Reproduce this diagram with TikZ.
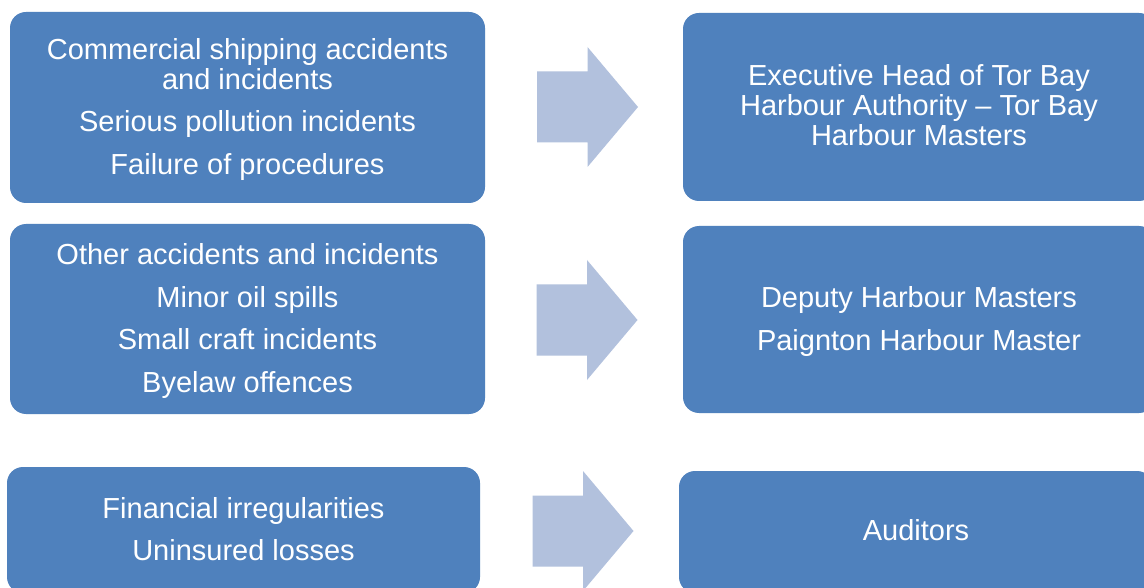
\documentclass[tikz,border=0pt]{standalone}
\usepackage{fontspec}
\setmainfont{Liberation Sans}
\definecolor{boxblue}{HTML}{4F81BD}
\definecolor{arrowblue}{HTML}{B2C1DD}
\tikzset{
  box/.style={fill=boxblue, rounded corners=16pt, inner sep=0pt},
  txt/.style={text=white, align=center, font=\fontsize{29}{30}\selectfont, inner sep=0pt},
  blockarrow/.pic={\fill[arrowblue] (-50.5,-35.5) -- (0,-35.5) -- (0,-60) -- (50.5,0) -- (0,60) -- (0,35.5) -- (-50.5,35.5) -- cycle;}
}
\begin{document}
\begin{tikzpicture}[x=1pt,y=-1pt]
\useasboundingbox (0,0) rectangle (1144,588);
\clip (0,0) rectangle (1144,588);
\fill[white] (0,0) rectangle (1144,588);
% left column
\node[box, minimum width=475pt, minimum height=191pt] (l1) at (247.5,107.5) {};
\node[txt] (t1) at ([yshift=-2pt]l1.center)
  {Commercial shipping accidents\\and incidents\\[12.3pt]Serious pollution incidents\\[12.3pt]Failure of procedures};
\node[box, minimum width=475pt, minimum height=190pt] (l2) at (247.5,319) {};
\node[txt] (t2) at ([yshift=-2pt]l2.center)
  {Other accidents and incidents\\[12.5pt]Minor oil spills\\[12.5pt]Small craft incidents\\[12.5pt]Byelaw offences};
\node[box, minimum width=473pt, minimum height=126pt] (l3) at (243.5,530) {};
\node[txt] (t3) at ([yshift=1pt]l3.center)
  {Financial irregularities\\[12.3pt]Uninsured losses};
% right column
\node[box, minimum width=472pt, minimum height=188pt] (r1) at (919,107) {};
\node[txt] (t4) at ([yshift=2pt]r1.center)
  {Executive Head of Tor Bay\\Harbour Authority -- Tor Bay\\Harbour Masters};
\node[box, minimum width=472pt, minimum height=187pt] (r2) at (919,319.5) {};
\node[txt] (t5) at ([yshift=-2pt]r2.center)
  {Deputy Harbour Masters\\[12.3pt]Paignton Harbour Master};
\node[box, minimum width=474pt, minimum height=122pt] (r3) at (916,532) {};
\node[txt] (t6) at ([yshift=2pt]r3.center) {Auditors};
% block arrows
\pic at (587.5,107) {blockarrow};
\pic at (587,320) {blockarrow};
\pic at (583,531) {blockarrow};
\end{tikzpicture}
\end{document}
